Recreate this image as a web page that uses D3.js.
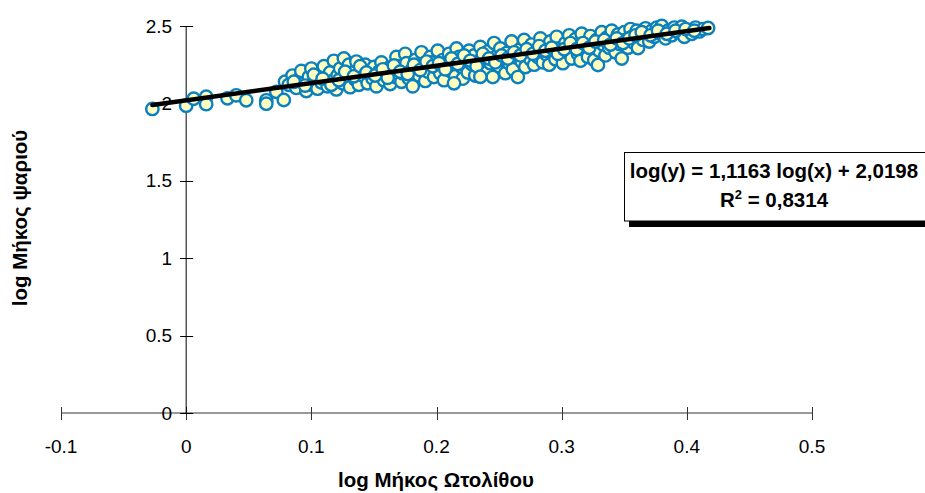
<!DOCTYPE html>
<html>
<head>
<meta charset="utf-8">
<script src="https://cdn.jsdelivr.net/npm/d3@7"></script>
<style>
  html, body { margin: 0; padding: 0; background: #fff; }
  svg { display: block; font-family: "Liberation Sans", Arial, sans-serif; }
</style>
</head>
<body>
<svg id="chart" width="925" height="493"></svg>
<script>
// ---- data ----
const logOtolith = [
 -0.027,0.000,0.006,0.016,0.016,0.033,0.040,0.048,0.064,0.064,0.072,0.078,0.079,
 0.082,0.085,0.088,0.090,0.092,0.094,0.096,0.098,0.100,0.100,0.103,0.105,0.107,0.108,0.110,0.112,0.113,0.115,0.117,0.118,
 0.120,0.121,0.123,0.125,0.126,0.128,0.130,0.131,0.133,0.135,0.136,0.138,0.140,0.142,0.143,0.145,0.147,0.149,
 0.150,0.152,0.154,0.156,0.158,0.160,0.162,0.163,0.165,0.167,0.168,0.170,0.172,0.173,0.175,0.176,0.178,
 0.180,0.181,0.183,0.185,0.186,0.188,0.190,0.191,0.193,0.195,0.196,0.198,0.200,0.201,0.203,0.205,0.206,0.208,
 0.210,0.211,0.213,0.215,0.216,0.218,0.220,0.221,0.223,0.225,0.226,0.228,0.230,0.231,0.233,0.235,0.236,0.238,
 0.240,0.241,0.243,0.245,0.246,0.248,0.250,0.251,0.253,0.255,0.256,0.258,0.260,0.261,0.263,0.265,0.266,0.268,
 0.270,0.271,0.273,0.275,0.276,0.278,0.280,0.281,0.283,0.285,0.286,0.288,0.290,0.291,0.293,0.295,0.296,0.298,
 0.300,0.301,0.303,0.305,0.306,0.308,0.310,0.311,0.313,0.315,0.316,0.318,0.320,0.321,0.323,0.325,0.326,0.328,
 0.329,0.330,0.332,0.333,0.335,0.336,0.338,0.340,0.341,0.343,0.345,0.346,0.348,0.350,0.351,0.353,0.355,0.356,
 0.358,0.360,0.361,0.363,0.365,0.367,0.368,0.370,0.372,0.374,0.376,0.378,0.380,0.383,0.385,0.388,0.390,0.393,
 0.396,0.398,0.401,0.404,0.407,0.410,0.413,0.417,
 0.086,0.095,0.102,0.109,0.116,0.122,0.127,0.134,0.139,0.144,0.151,0.157,0.161,0.166,0.171,0.177,0.182,0.187,
 0.192,0.197,0.202,0.207,0.212,0.217,0.222,0.227,0.232,0.237,0.242,0.247,0.252,0.257,0.262,0.267,0.272,0.277,
 0.282,0.287,0.292,0.297,0.302,0.307,0.312,0.317,0.322,0.327,0.334,0.339,0.344,0.349,0.354,0.359,0.364,0.371,
 0.377,0.384,0.391,0.399,0.406,0.235,0.214
];
const logFish = [
 1.964,1.985,2.030,2.043,1.995,2.033,2.052,2.020,2.020,1.998,2.075,2.022,2.140,
 2.120,2.180,2.100,2.155,2.210,2.130,2.080,2.170,2.120,2.225,2.150,2.095,2.190,2.135,2.240,2.165,2.110,2.200,2.145,2.275,
 2.090,2.180,2.225,2.130,2.290,2.170,2.250,2.105,2.200,2.155,2.270,2.120,2.215,2.175,2.250,2.130,2.195,2.160,
 2.235,2.110,2.205,2.265,2.150,2.185,2.230,2.125,2.210,2.170,2.300,2.240,2.140,2.195,2.320,2.260,2.160,
 2.215,2.110,2.280,2.235,2.180,2.330,2.250,2.145,2.205,2.300,2.265,2.170,2.230,2.340,2.195,2.280,2.150,2.245,
 2.320,2.210,2.265,2.175,2.355,2.300,2.235,2.160,2.280,2.200,2.340,2.255,2.310,2.180,2.270,2.365,2.225,2.295,
 2.200,2.335,2.260,2.170,2.390,2.305,2.240,2.355,2.280,2.195,2.325,2.260,2.400,2.220,2.300,2.170,2.345,2.270,
 2.410,2.235,2.320,2.285,2.380,2.250,2.340,2.300,2.420,2.265,2.360,2.315,2.250,2.400,2.330,2.285,2.430,2.355,
 2.300,2.260,2.390,2.330,2.440,2.290,2.370,2.415,2.320,2.275,2.450,2.350,2.395,2.300,2.435,2.365,2.280,2.410,
 2.248,2.340,2.460,2.380,2.310,2.425,2.360,2.470,2.400,2.330,2.445,2.385,2.290,2.460,2.410,2.360,2.480,2.430,
 2.390,2.470,2.358,2.440,2.410,2.485,2.450,2.400,2.470,2.430,2.490,2.455,2.500,2.420,2.470,2.440,2.490,2.460,
 2.495,2.430,2.475,2.450,2.490,2.465,2.480,2.487,
 2.140,2.115,2.185,2.160,2.120,2.150,2.205,2.175,2.240,2.200,2.180,2.220,2.165,2.245,2.205,2.190,2.250,2.215,
 2.270,2.240,2.260,2.220,2.290,2.255,2.310,2.275,2.240,2.320,2.290,2.265,2.310,2.290,2.330,2.310,2.350,2.320,
 2.370,2.340,2.360,2.320,2.350,2.390,2.350,2.390,2.360,2.400,2.410,2.380,2.420,2.390,2.420,2.440,2.460,2.440,
 2.470,2.450,2.470,2.480,2.470,2.172,2.130
];
const trendSlope = 1.1163;
const trendIntercept = 2.0198;
const trendRange = [-0.027, 0.418];
const xTicks = [-0.1, 0, 0.1, 0.2, 0.3, 0.4, 0.5];
const yTicks = [0, 0.5, 1, 1.5, 2, 2.5];
const xTitle = "log Μήκος Ωτολίθου";
const yTitle = "log Μήκος ψαριού";
const eqLine1 = "log(y) = 1,1163 log(x) + 2,0198";
const eqLine2a = "R";
const eqLine2sup = "2";
const eqLine2b = " = 0,8314";

// ---- drawing ----
const svg = d3.select("#chart");
const x = d3.scaleLinear().domain([-0.1, 0.5]).range([61, 812]);
const y = d3.scaleLinear().domain([0, 2.5]).range([413, 26]);
const fmt = d => String(d);

// x axis (crossing ticks)
const xAxisG = svg.append("g").attr("transform", `translate(0,${y(0)})`);
xAxisG.append("line").attr("x1", x(-0.1)).attr("x2", x(0.5)).attr("y1", 0).attr("y2", 0)
  .attr("stroke", "#333").attr("stroke-width", 1);
xAxisG.selectAll("line.tick").data(xTicks).join("line").attr("class", "tick")
  .attr("x1", d => Math.round(x(d)) + 0.5).attr("x2", d => Math.round(x(d)) + 0.5)
  .attr("y1", -6).attr("y2", 7).attr("stroke", "#333");
xAxisG.selectAll("text").data(xTicks).join("text")
  .attr("x", d => x(d)).attr("y", 40)
  .attr("text-anchor", "middle").attr("font-size", 19).attr("fill", "#000")
  .text(fmt);

// y axis
const yAxisG = svg.append("g").attr("transform", `translate(${x(0)},0)`);
yAxisG.append("line").attr("x1", 0).attr("x2", 0).attr("y1", y(2.5)).attr("y2", y(0))
  .attr("stroke", "#000").attr("stroke-width", 1);
yAxisG.selectAll("line.tick").data(yTicks).join("line").attr("class", "tick")
  .attr("x1", -6).attr("x2", 7)
  .attr("y1", d => Math.round(y(d)) + 0.5).attr("y2", d => Math.round(y(d)) + 0.5)
  .attr("stroke", "#000");
yAxisG.selectAll("text").data(yTicks).join("text")
  .attr("x", -14).attr("y", d => y(d)).attr("dy", "0.35em")
  .attr("text-anchor", "end").attr("font-size", 19).attr("fill", "#000")
  .text(fmt);

// points
svg.append("g").selectAll("circle").data(logOtolith.map((v, i) => [v, logFish[i]])).join("circle")
  .attr("cx", d => x(d[0])).attr("cy", d => y(d[1])).attr("r", 6.2)
  .attr("fill", "#FFFFC0").attr("stroke", "#0A80C0").attr("stroke-width", 2.4);

// trend line
const trend = trendRange.map(v => [v, trendSlope * v + trendIntercept]);
svg.append("path").datum(trend)
  .attr("d", d3.line().x(d => x(d[0])).y(d => y(d[1])))
  .attr("stroke", "#000").attr("stroke-width", 4.5).attr("stroke-linecap", "round").attr("fill", "none");

// equation box with shadow
svg.append("rect").attr("x", 629).attr("y", 157).attr("width", 320).attr("height", 70).attr("fill", "#000");
svg.append("rect").attr("x", 624.5).attr("y", 152.5).attr("width", 320).attr("height", 68.5)
  .attr("fill", "#fff").attr("stroke", "#000").attr("stroke-width", 1);
svg.append("text").attr("x", 774).attr("y", 178).attr("text-anchor", "middle")
  .attr("font-size", 20.5).attr("font-weight", "bold").text(eqLine1);
const t2 = svg.append("text").attr("x", 774).attr("y", 207).attr("text-anchor", "middle")
  .attr("font-size", 20.5).attr("font-weight", "bold");
t2.append("tspan").text(eqLine2a);
t2.append("tspan").attr("dy", -8).attr("font-size", 13).text(eqLine2sup);
t2.append("tspan").attr("dy", 8).text(eqLine2b);

// axis titles
svg.append("text").attr("x", 436).attr("y", 487).attr("text-anchor", "middle")
  .attr("font-size", 20.5).attr("font-weight", "bold").text(xTitle);
svg.append("text").attr("transform", "translate(27,218) rotate(-90)").attr("text-anchor", "middle")
  .attr("font-size", 20.5).attr("font-weight", "bold").text(yTitle);
</script>
</body>
</html>
